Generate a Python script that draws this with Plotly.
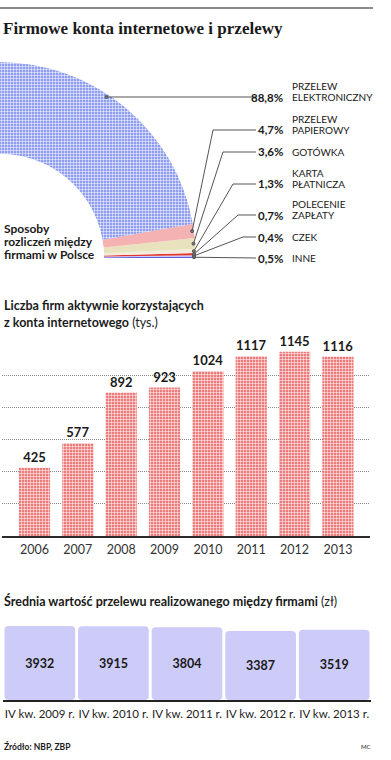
import plotly.graph_objects as go
import math

W, H = 391, 760

# ---------------- data ----------------
pay_names = ["INNE", "CZEK", "POLECENIE<br>ZAPŁATY", "KARTA<br>PŁATNICZA", "GOTÓWKA",
             "PRZELEW<br>PAPIEROWY", "PRZELEW<br>ELEKTRONICZNY"]
pay_pct = [0.5, 0.4, 0.7, 1.3, 3.6, 4.7, 88.8]
pay_pct_labels = ["0,5%", "0,4%", "0,7%", "1,3%", "3,6%", "4,7%", "88,8%"]

years = ["2006", "2007", "2008", "2009", "2010", "2011", "2012", "2013"]
firms = [425, 577, 892, 923, 1024, 1117, 1145, 1116]

quarters = ["IV kw. 2009 r.", "IV kw. 2010 r.", "IV kw. 2011 r.", "IV kw. 2012 r.", "IV kw. 2013 r."]
avg_transfer = [3932, 3915, 3804, 3387, 3519]

# ---------------- styles ----------------
pay_colors = ["#5b5ee6", "#c9c9f6", "#e3342f", "#f3ecdc", "#e8e2bd", "#f4b2b2", "#8f9ef0"]
TXT = "#1a1a1a"
SANS = "Lato"
SERIF = "Liberation Serif"


def px(x):
    return x / W


def py(y):
    return 1 - y / H


fig = go.Figure()

# ---------- quarter ring (barpolar) ----------
scale = 90.0 / sum(pay_pct)
cum = 0
thetas, widths = [], []
for p in pay_pct:
    thetas.append((cum + p / 2) * scale)
    widths.append(p * scale)
    cum += p

for i in range(len(pay_pct)):
    marker = dict(color=pay_colors[i], line=dict(width=0))
    if i == len(pay_pct) - 1:
        marker["pattern"] = dict(shape="+", fgcolor="white", bgcolor=pay_colors[i],
                                 size=3, solidity=0.3, fillmode="replace")
    fig.add_trace(go.Barpolar(r=[1], theta=[thetas[i]], width=[widths[i]],
                              marker=marker, showlegend=False, hoverinfo="skip"))

CX, CY, R_OUT, R_IN = 0, 258, 196, 104
fig.update_layout(polar=dict(
    domain=dict(x=[px(0), px(R_OUT)], y=[py(CY), py(CY - R_OUT)]),
    sector=[0, 90], hole=R_IN / R_OUT, bgcolor="rgba(0,0,0,0)",
    radialaxis=dict(visible=False, range=[0, 1]),
    angularaxis=dict(visible=False, direction="counterclockwise", rotation=0),
))

# leader lines + labels
label_y = [258, 237, 215, 184, 152, 130, 97]
corner_x = [None, 243, 238, 233, 223, 213, None]
shapes = []
annotations = []


def ann(text, x, y, xanchor="left", size=12, family=SANS, color=TXT):
    return dict(text=text, x=px(x), y=py(y), xref="paper", yref="paper",
                xanchor=xanchor, yanchor="middle", showarrow=False,
                font=dict(family=family, size=size, color=color))


for i in range(len(pay_pct)):
    ly = label_y[i]
    if i == len(pay_pct) - 1:
        ax = math.sqrt((R_OUT - 3) ** 2 - (CY - ly) ** 2)
        ay = ly
    else:
        a = math.radians(thetas[i])
        rr = R_OUT - 2
        ax, ay = CX + rr * math.cos(a), CY - rr * math.sin(a)
    pts = [(ax, ay)]
    if corner_x[i] is not None:
        pts.append((corner_x[i], ly))
    pts.append((256, ly))
    path = "M " + " L ".join(f"{px(x):.5f},{py(y):.5f}" for x, y in pts)
    shapes.append(dict(type="path", path=path, xref="paper", yref="paper",
                       line=dict(color="#555555", width=1)))
    shapes.append(dict(type="circle", xref="paper", yref="paper",
                       x0=px(ax - 1.5), x1=px(ax + 1.5), y0=py(ay + 1.5), y1=py(ay - 1.5),
                       line=dict(color="#555555", width=1), fillcolor="#777777"))
    annotations.append(ann(f"<b>{pay_pct_labels[i]}</b>", 285, ly, "right", 11.5))
    parts = pay_names[i].split("<br>")
    for j, part in enumerate(reversed(parts)):
        annotations.append(ann(part, 290, ly - 11 * j, "left", 10))

for txt, yy in [("Sposoby", 228), ("rozliczeń między", 241), ("firmami w Polsce", 254)]:
    annotations.append(ann(f"<b>{txt}</b>", 2, yy, "left", 12))

# ---------- bar chart: firms ----------
fig.add_trace(go.Bar(
    x=years, y=firms, xaxis="x2", yaxis="y2",
    text=[str(v) for v in firms], textposition="outside", cliponaxis=False,
    textfont=dict(family=SANS, size=13, color=TXT, weight="bold"),
    marker=dict(color="#ef8080", line=dict(width=0),
                pattern=dict(shape="+", fgcolor="white", bgcolor="#ee7c7c",
                             size=3, solidity=0.3, fillmode="replace")),
    showlegend=False, hoverinfo="skip"))

# ---------- boxes: average transfer ----------
FLOOR = -4134
fig.add_trace(go.Bar(
    x=quarters, y=[v - FLOOR for v in avg_transfer], base=FLOOR, xaxis="x3", yaxis="y3",
    width=0.96,
    text=[str(v) for v in avg_transfer], textposition="inside", insidetextanchor="middle",
    textfont=dict(family=SANS, size=12.5, color=TXT, weight="bold"),
    marker=dict(color="#cdcbf7", line=dict(width=0), cornerradius=4),
    showlegend=False, hoverinfo="skip"))

fig.update_layout(
    width=W, height=H, margin=dict(l=0, r=0, t=0, b=0),
    paper_bgcolor="white", plot_bgcolor="rgba(0,0,0,0)",
    bargap=0.28,
    xaxis2=dict(domain=[px(2), px(370)], anchor="y2", range=[-0.75, 7.74],
                showgrid=False, showline=True, linecolor="#2b2b2b", linewidth=2,
                ticks="", ticklabelstandoff=1,
                tickfont=dict(family=SANS, size=12.5, color="#333333"),
                fixedrange=True),
    yaxis2=dict(domain=[py(536), py(343)], anchor="x2", range=[0, 1200], dtick=200,
                showgrid=True, gridcolor="#8a8a8a", griddash="1px,1px", gridwidth=1,
                zeroline=False, showticklabels=False, fixedrange=True),
    xaxis3=dict(domain=[px(3), px(371)], anchor="y3", showgrid=False, showline=True,
                linecolor="#222222", linewidth=2, ticks="", tickangle=0, ticklabelstandoff=2,
                tickfont=dict(family=SANS, size=11.5, color="#222222"), fixedrange=True),
    yaxis3=dict(domain=[py(700), py(620)], anchor="x3", range=[FLOOR, FLOOR + 80 * 109],
                showgrid=False, zeroline=False, showticklabels=False, fixedrange=True),
)

shapes.append(dict(type="line", xref="paper", yref="paper", x0=px(0), x1=px(373),
                   y0=py(8), y1=py(8), line=dict(color="#8a8a8a", width=2)))

annotations += [
    ann("<b>Firmowe konta internetowe i przelewy</b>", 1, 29, "left", 17, SERIF),
    ann("<b>Liczba firm aktywnie korzystających</b>", 2, 305, "left", 12.5),
    ann("<b>z konta internetowego</b> (tys.)", 2, 322, "left", 12.5),
    ann("<b>Średnia wartość przelewu realizowanego między firmami</b> (zł)", 2, 601, "left", 12.5),
    ann("<b>Źródło: NBP, ZBP</b>", 2, 746, "left", 8.5),
    ann("MC", 373, 746, "right", 6),
]

fig.update_layout(shapes=shapes, annotations=annotations)
fig.write_html("out.html", config={"displayModeBar": False},
               post_script="document.body.style.margin='0';document.body.style.overflow='hidden';")
